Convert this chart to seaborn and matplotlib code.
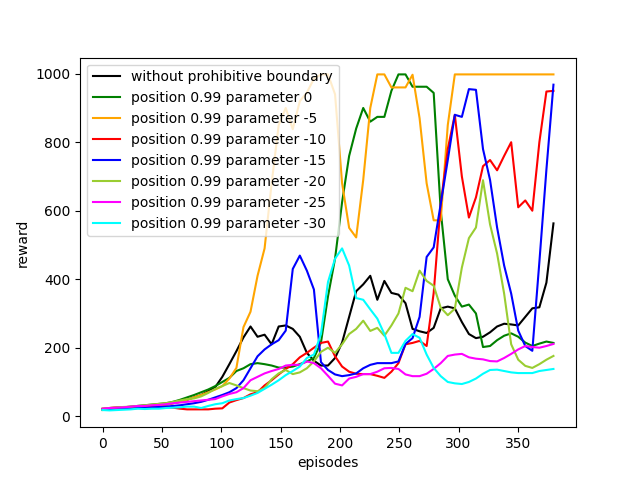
import matplotlib
matplotlib.use('Agg')
import matplotlib.pyplot as plt
import seaborn as sns
import numpy as np

# 65 samples spread over episodes 0..380
episodes = np.linspace(0, 380, 65)

no_boundary = [20, 22, 22, 24, 25, 27, 28, 30, 32, 34,
               38, 42, 48, 55, 62, 73, 85, 115, 152, 190,
               230, 262, 232, 238, 210, 262, 265, 255, 232, 185,
               162, 148, 148, 170, 215, 290, 365, 385, 410, 340,
               395, 360, 355, 330, 255, 248, 243, 258, 315, 320,
               315, 275, 240, 228, 232, 245, 262, 270, 268, 265,
               290, 315, 318, 390, 563]

param_0 = [20, 22, 24, 26, 28, 30, 32, 34, 36, 38,
           42, 48, 55, 62, 70, 78, 88, 100, 112, 132,
           140, 152, 155, 152, 148, 142, 142, 145, 152, 160,
           170, 215, 350, 460, 625, 760, 840, 900, 860, 874,
           874, 950, 998, 998, 962, 962, 962, 944, 600, 400,
           352, 320, 326, 300, 202, 205, 222, 235, 242, 232,
           215, 205, 212, 218, 214]

param_5 = [18, 20, 22, 24, 25, 27, 28, 30, 32, 34,
           38, 42, 48, 55, 62, 70, 78, 88, 110, 141,
           260, 305, 410, 490, 680, 850, 900, 838, 920, 945,
           985, 998, 998, 940, 680, 550, 522, 690, 900, 998,
           998, 960, 960, 960, 997, 870, 680, 572, 572, 850,
           998, 998, 998, 998, 998, 998, 998, 998, 998, 998,
           998, 998, 998, 998, 998]

param_10 = [22, 24, 26, 26, 26, 28, 27, 28, 28, 27,
            25, 22, 20, 20, 20, 20, 22, 23, 40, 47,
            53, 64, 70, 90, 105, 122, 138, 152, 172, 185,
            200, 214, 218, 175, 145, 130, 124, 123, 123, 118,
            112, 130, 155, 210, 214, 220, 205, 360, 620, 780,
            880, 700, 580, 639, 730, 748, 718, 760, 800, 610,
            630, 600, 800, 948, 950]

param_15 = [20, 20, 21, 22, 23, 24, 25, 26, 27, 28,
            30, 32, 35, 38, 42, 48, 55, 62, 70, 82,
            105, 140, 175, 195, 210, 222, 250, 430, 469, 425,
            370, 158, 135, 122, 117, 120, 125, 140, 150, 155,
            155, 155, 160, 211, 228, 290, 465, 493, 620, 748,
            880, 874, 955, 953, 780, 690, 551, 440, 358, 250,
            205, 191, 450, 720, 968]

param_20 = [22, 24, 26, 27, 28, 30, 32, 34, 36, 38,
            42, 46, 50, 52, 58, 68, 80, 88, 97, 90,
            82, 75, 73, 82, 108, 125, 135, 123, 128, 140,
            160, 188, 200, 185, 210, 240, 255, 279, 249, 258,
            235, 265, 300, 375, 365, 425, 395, 381, 317, 295,
            314, 434, 520, 551, 689, 560, 475, 358, 210, 165,
            147, 141, 152, 165, 176]

param_25 = [22, 24, 25, 26, 28, 30, 30, 32, 33, 35,
            38, 40, 42, 44, 46, 48, 50, 58, 65, 70,
            82, 105, 115, 125, 132, 138, 148, 150, 150, 160,
            155, 140, 118, 95, 90, 110, 115, 123, 123, 130,
            140, 141, 138, 122, 117, 117, 124, 138, 155, 176,
            180, 182, 172, 168, 166, 161, 160, 170, 182, 195,
            205, 202, 200, 205, 211]

param_30 = [18, 17, 18, 19, 20, 22, 21, 22, 22, 24,
            25, 26, 28, 28, 24, 30, 35, 38, 46, 50,
            53, 60, 68, 80, 92, 105, 120, 132, 145, 170,
            180, 240, 392, 460, 490, 440, 345, 340, 312, 285,
            240, 185, 185, 220, 240, 229, 180, 141, 117, 100,
            96, 94, 100, 110, 124, 135, 136, 132, 128, 126,
            126, 126, 132, 135, 138]

labels = ['without prohibitive boundary',
          'position 0.99 parameter 0',
          'position 0.99 parameter -5',
          'position 0.99 parameter -10',
          'position 0.99 parameter -15',
          'position 0.99 parameter -20',
          'position 0.99 parameter -25',
          'position 0.99 parameter -30']
colors = ['black', 'green', 'orange', 'red', 'blue', 'yellowgreen', 'magenta', 'cyan']
series = [no_boundary, param_0, param_5, param_10, param_15, param_20, param_25, param_30]

fig, ax = plt.subplots(figsize=(6.4, 4.8), dpi=100)
for vals, lab, c in zip(series, labels, colors):
    sns.lineplot(x=episodes, y=vals, color=c, label=lab, ax=ax, linewidth=1.5)

ax.set_xlabel('episodes')
ax.set_ylabel('reward')
ax.legend(loc='upper left')
plt.savefig('out.png', dpi=100)
